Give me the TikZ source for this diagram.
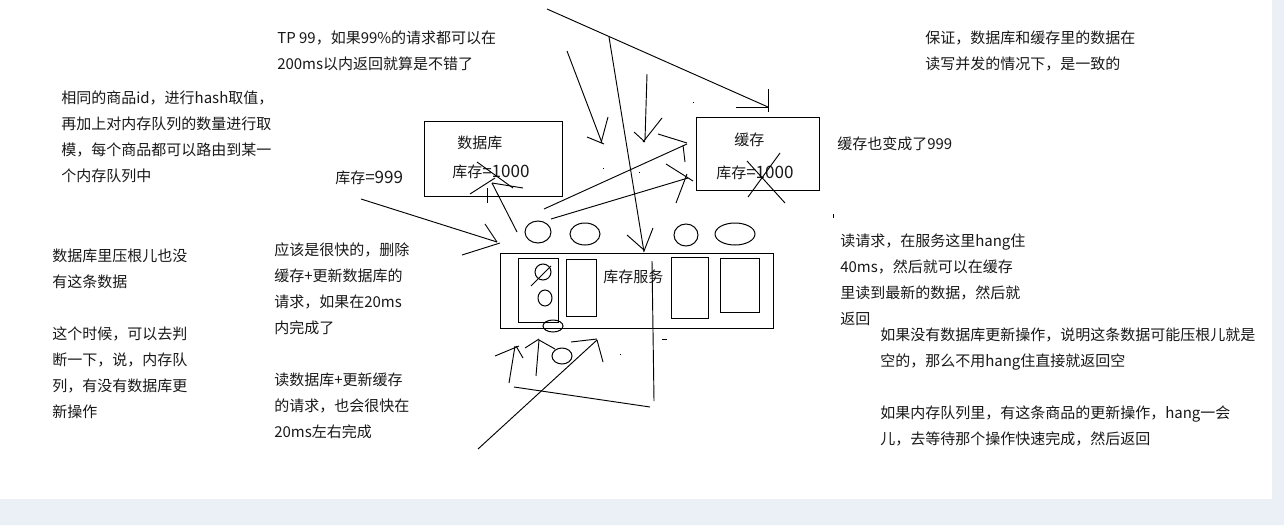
\documentclass[tikz,border=0pt]{standalone}
\usepackage{fontspec}
\setmainfont{Noto Sans CJK SC}
\definecolor{pageblue}{RGB}{235,240,247}
\newcommand{\stocknum}[1]{{\fontsize{12.8}{19.5}\selectfont #1}}
\tikzset{
  note/.style={anchor=north west,inner sep=0pt,yshift=-1.8pt,align=left,text=black!90,font=\fontsize{11.25}{19.5}\selectfont},
  stroke/.style={line width=0.75pt},
  hair/.style={line width=0.7pt},
}
\begin{document}
\begin{tikzpicture}[x=0.75pt,y=-0.75pt]
    \useasboundingbox (0,0) rectangle (1284,525);
    % page background
    \fill [white] (0,0) rectangle (1284,525);
    \fill [pageblue] (0,499) -- (1272,499) -- (1272,0) -- (1284,0) -- (1284,525) -- (0,525) -- cycle;
    % left notes
    \node [note] (samehash) at (61,88) {相同的商品id，进行hash取值，\\再加上对内存队列的数量进行取\\模，每个商品都可以路由到某一\\个内存队列中};
    \node [note] (nodata) at (52,246) {数据库里压根儿也没\\有这条数据\\[19.5pt]这个时候，可以去判\\断一下，说，内存队\\列，有没有数据库更\\新操作};
    \node [note] (tpnine) at (277,28) {TP 99，如果99\%的请求都可以在\\200ms以内返回就算是不错了};
    \node [note] (fastreq) at (274,240) {应该是很快的，删除\\缓存+更新数据库的\\请求，如果在20ms\\内完成了\\[19.5pt]读数据库+更新缓存\\的请求，也会很快在\\20ms左右完成};
    \node [note] (stocknew) at (335,168) {库存\stocknum{=999}};
    % right notes
    \node [note] (promise) at (925,28) {保证，数据库和缓存里的数据在\\读写并发的情况下，是一致的};
    \node [note] (cachenew) at (837,134) {缓存也变成了999};
    \node [note] (readreq) at (840,231) {读请求，在服务这里hang住\\40ms，然后就可以在缓存\\里读到最新的数据，然后就\\返回};
    \node [note] (noupdate) at (880,325) {如果没有数据库更新操作，说明这条数据可能压根儿就是\\空的，那么不用hang住直接就返回空\\[19.5pt]如果内存队列里，有这条商品的更新操作，hang一会\\儿，去等待那个操作快速完成，然后返回};
    % boxes
    \draw [stroke] (424,121) rectangle (562,196);
    \draw [stroke] (696,117) rectangle (819,190);
    \draw [stroke] (500,253) rectangle (773,328);
    \draw [stroke] (518,258) rectangle (558,322);
    \draw [stroke] (566,259) rectangle (596,316);
    \draw [stroke] (671,257) rectangle (708,318);
    \draw [stroke] (720,258) rectangle (759,312);
    \node [note] (dbname) at (457,133) {数据库};
    \node [note] (dbstock) at (452,162) {库存\stocknum{=1000}};
    \node [note] (cachename) at (734,130) {缓存};
    \node [note] (cachestock) at (716,163) {库存\stocknum{=1000}};
    \node [note] (service) at (603,267) {库存服务};
    % queues
    \draw [stroke] (538,232) ellipse (13 and 11);
    \draw [stroke] (585,234) ellipse (15 and 11);
    \draw [stroke] (686,235) ellipse (12 and 11);
    \draw [stroke] (735,234) ellipse (20 and 11);
    \draw [stroke] (543,272) circle (8);
    \draw [stroke] (545,298) ellipse (7 and 8);
    \draw [stroke] (553,326) ellipse (10 and 6);
    \draw [stroke] (562,356) ellipse (10 and 8);
    \draw [hair] (531,286)--(551,266);
    % scribbled arrows, top
    \draw [hair] (547,9)--(768,107);
    \draw [hair] (768,89)--(768,112);
    \draw [hair] (736,107)--(768,107);
    \draw [hair] (609,37)--(644,252);
    \draw [hair] (627,235)--(644,250);
    \draw [hair] (653,228)--(644,251);
    \draw [hair] (567,51)--(602,143);
    \draw [hair] (608,117)--(601,143);
    \draw [hair] (587,137)--(604,144);
    \draw [hair] (647,74)--(645,140);
    \draw [hair] (662,118)--(643,142);
    \draw [hair] (634,132)--(645,142);
    \draw [hair] (544,209)--(687,144);
    \draw [hair] (658,134)--(687,143);
    \draw [hair] (683,145)--(685,162);
    \draw [hair] (551,219)--(688,178);
    \draw [hair] (666,164)--(693,181);
    \draw [hair] (687,174)--(676,203);
    \draw [hair] (361,199)--(497,242);
    \draw [hair] (485,224)--(497,242);
    \draw [hair] (462,255)--(500,243);
    \draw [hair] (517,232)--(492,183);
    \draw [hair] (470,194)--(495,178);
    \draw [hair] (487,203)--(487,188);
    % stock crossed out
    \draw [hair] (477,162)--(513,188);
    \draw [hair] (492,183)--(523,188);
    \draw [hair] (780,153)--(748,197);
    \draw [hair] (747,161)--(785,203);
    % scribbled arrows, bottom
    \draw [hair] (652,261)--(654,401);
    \draw [hair] (514,387)--(650,407);
    \draw [hair] (478,449)--(597,340);
    \draw [hair] (571,342)--(597,339);
    \draw [hair] (597,340)--(603,362);
    \draw [hair] (509,383)--(515,346);
    \draw [hair] (495,356)--(519,346);
    \draw [hair] (516,346)--(523,358);
    \draw [hair] (536,376)--(539,340);
    \draw [hair] (525,348)--(539,339);
    \draw [hair] (539,340)--(555,349);
    % stray marks
    \draw [hair] (662,339)--(667,339);
    \draw [hair] (620,354)--(621,354);
    \draw [hair] (693,102)--(694,102);
    \draw [hair] (603,168)--(604,168);
    \draw [hair] (639,172)--(640,172);
    \draw [hair] (833,214)--(833,218);
\end{tikzpicture}
\end{document}
